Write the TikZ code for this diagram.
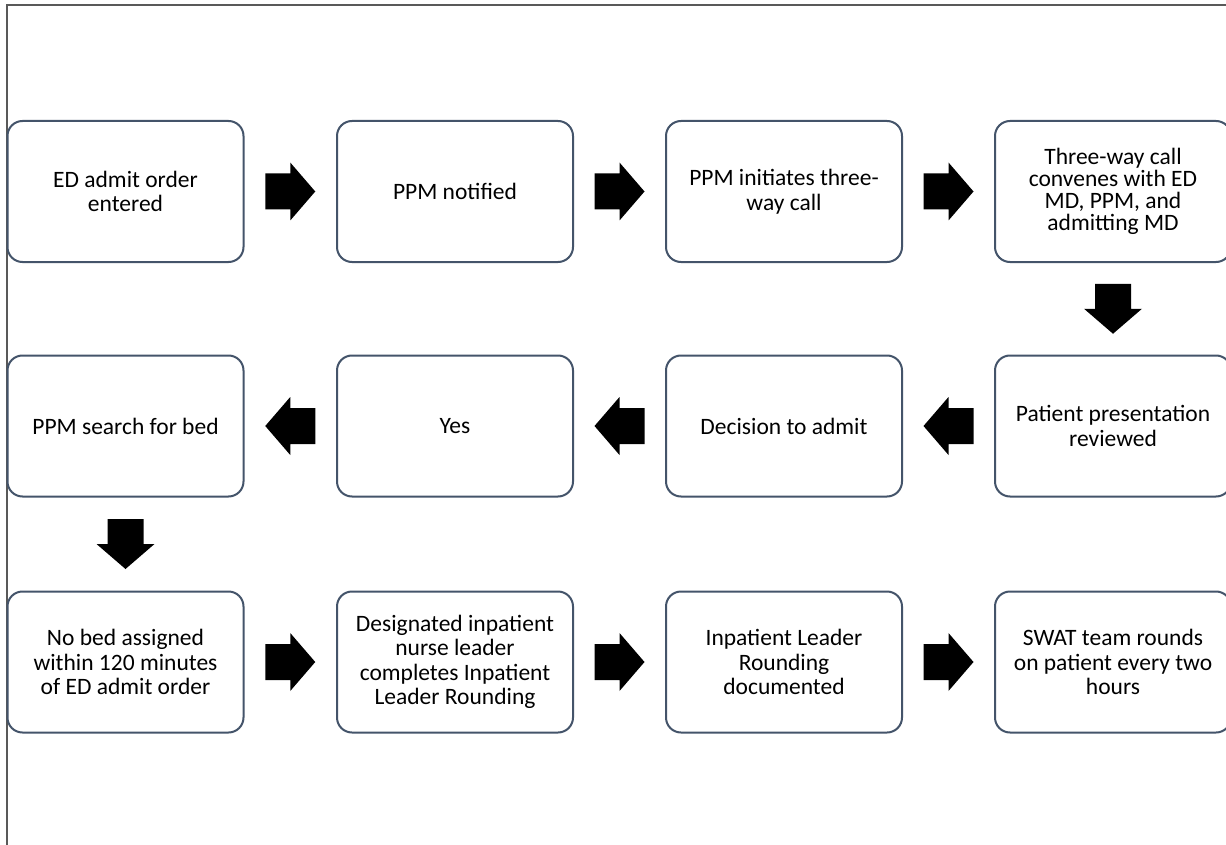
\documentclass[tikz,border=0pt]{standalone}
\usepackage{fontspec}
\setmainfont{Carlito}
\usetikzlibrary{calc}

\definecolor{boxline}{HTML}{44546A}
\definecolor{frameline}{HTML}{595959}

\tikzset{
  stepbox/.style={draw=boxline, line width=2pt, rounded corners=15pt,
    minimum width=236pt, minimum height=141pt, align=center,
    font=\fontsize{23.5}{24.5}\selectfont, inner sep=0pt},
  pics/flowarrow/.style={code={
    \fill[black] (-25,-18) -- (0,-18) -- (0,-29) -- (25,0) -- (0,29) -- (0,18) -- (-25,18) -- cycle;}}
}

\begin{document}
\begin{tikzpicture}[x=1pt,y=-1pt]
\clip (0,0) rectangle (1226,845);
\fill[white] (0,0) rectangle (1226,845);
% frame of the page
\draw[frameline,line width=1.5pt] (7,845) -- (7,5) -- (1226,5);

% first row
\node[stepbox] (admit) at (125.5,191.5) {ED admit order\\entered};
\node[stepbox] (notify) at (455,191.5) {PPM notified};
\node[stepbox] (initcall) at (784,191.5) {PPM initiates three-\\way call};
\node[stepbox,font=\fontsize{23.5}{22}\selectfont] (convene) at (1113,191.5) {Three-way call\\convenes with ED\\MD, PPM, and\\admitting MD};

% second row
\node[stepbox] (review) at (1113,426) {Patient presentation\\reviewed};
\node[stepbox] (decide) at (784,426) {Decision to admit};
\node[stepbox] (yes) at (455,426) {Yes};
\node[stepbox] (search) at (125.5,426) {PPM search for bed};

% third row
\node[stepbox] (nobed) at (125.5,662) {No bed assigned\\within 120 minutes\\of ED admit order};
\node[stepbox] (rounding) at (455,662) {Designated inpatient\\nurse leader\\completes Inpatient\\Leader Rounding};
\node[stepbox] (documented) at (784,662) {Inpatient Leader\\Rounding\\documented};
\node[stepbox] (swat) at (1113,662) {SWAT team rounds\\on patient every two\\hours};

% block arrows
\pic at ($(admit.east)!.5!(notify.west)$) {flowarrow};
\pic at ($(notify.east)!.5!(initcall.west)$) {flowarrow};
\pic at ($(initcall.east)!.5!(convene.west)$) {flowarrow};
\pic[rotate=-90] at ($(convene.south)!.5!(review.north)$) {flowarrow};
\pic[rotate=180] at ($(review.west)!.5!(decide.east)$) {flowarrow};
\pic[rotate=180] at ($(decide.west)!.5!(yes.east)$) {flowarrow};
\pic[rotate=180] at ($(yes.west)!.5!(search.east)$) {flowarrow};
\pic[rotate=-90] at ($(search.south)!.5!(nobed.north)$) {flowarrow};
\pic at ($(nobed.east)!.5!(rounding.west)$) {flowarrow};
\pic at ($(rounding.east)!.5!(documented.west)$) {flowarrow};
\pic at ($(documented.east)!.5!(swat.west)$) {flowarrow};
\end{tikzpicture}
\end{document}
